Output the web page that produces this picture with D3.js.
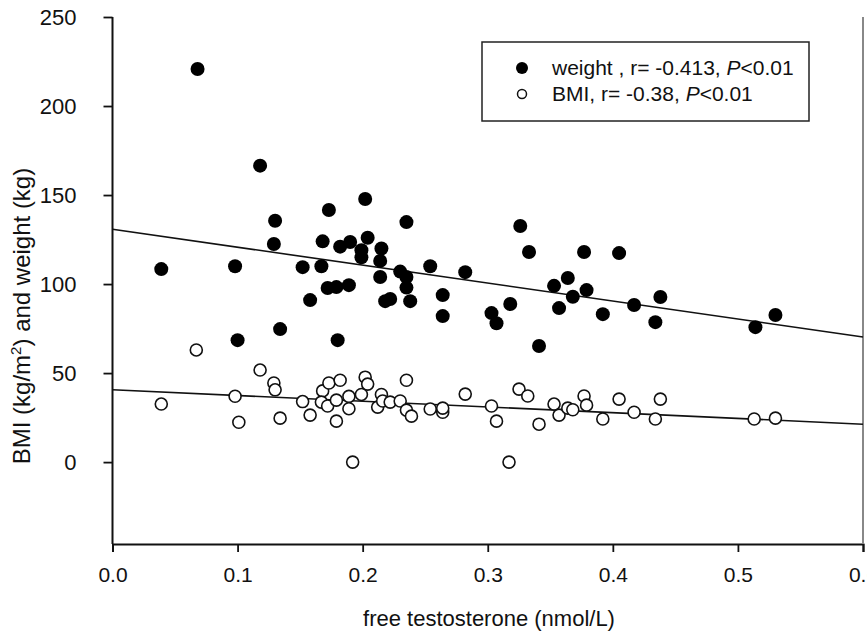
<!DOCTYPE html>
<html>
<head>
<meta charset="utf-8">
<script src="https://cdn.jsdelivr.net/npm/d3@7"></script>
<style>
  body { margin: 0; background: #fff; }
  text { font-family: "Liberation Sans", Arial, sans-serif; fill: #111; }
</style>
</head>
<body>
<svg id="chart" width="867" height="633"></svg>
<script>
// free testosterone (nmol/L) vs weight (kg)
const weightPts = [
  [0.039,108.4],[0.068,220.8],[0.098,110],[0.1,68.5],[0.118,166.5],[0.13,135.6],[0.129,122.5],
  [0.134,74.7],[0.152,109.5],[0.158,91],[0.167,110],[0.168,124],[0.173,141.6],[0.172,97.8],
  [0.179,98.3],[0.18,68.5],[0.182,121],[0.19,123.6],[0.189,99.4],[0.202,147.8],[0.204,126],
  [0.199,119],[0.199,115],[0.215,120],[0.214,113],[0.214,104],[0.218,90.4],[0.222,91.6],
  [0.23,107],[0.235,134.8],[0.235,104],[0.235,98],[0.238,90.4],[0.254,110],[0.264,93.8],
  [0.264,82],[0.282,106.7],[0.303,83.7],[0.307,78],[0.318,88.8],[0.326,132.6],[0.333,118],
  [0.341,65.2],[0.353,99],[0.357,86.5],[0.364,103.4],[0.368,92.9],[0.377,118],[0.379,96.6],
  [0.392,83.1],[0.405,117.4],[0.417,88.2],[0.434,78.6],[0.438,92.7],[0.514,75.8],[0.53,82.6]
];
// free testosterone vs BMI (kg/m2)
const bmiPts = [
  [0.039,32.6],[0.067,63],[0.098,37],[0.101,22.4],[0.118,51.7],[0.129,44.4],[0.13,40.6],
  [0.134,24.7],[0.152,34],[0.158,26.4],[0.168,40],[0.173,44.4],[0.182,46],[0.167,33.7],
  [0.172,31.5],[0.179,34.8],[0.179,23],[0.189,36.9],[0.189,30],[0.192,0],[0.199,38],
  [0.202,47.7],[0.204,43.8],[0.212,30.9],[0.215,38],[0.216,34.3],[0.222,33.7],[0.23,34.3],
  [0.235,46],[0.235,29.2],[0.239,25.8],[0.254,29.8],[0.264,28],[0.264,30.3],[0.282,38.2],
  [0.303,31.5],[0.307,23],[0.317,0],[0.325,41],[0.332,37.1],[0.341,21.3],[0.353,32.6],
  [0.357,26.4],[0.364,30.3],[0.368,29.4],[0.377,37.1],[0.379,32],[0.392,24.2],[0.405,35.4],
  [0.417,28],[0.434,24.2],[0.438,35.4],[0.513,24.2],[0.53,24.7]
];
// regression lines, end points at x = 0 and x = 0.6
const weightFit = [[0, 130.8], [0.6, 70.3]];
const bmiFit = [[0, 40.6], [0.6, 21.3]];

const xTicks = [0, 0.1, 0.2, 0.3, 0.4, 0.5, 0.6];
const yTicks = [0, 50, 100, 150, 200, 250];
const legendLabels = ['weight , r= -0.413, ', 'BMI, r= -0.38, '];

const svg = d3.select('#chart');
const x = d3.scaleLinear().domain([0, 0.6]).range([112.5, 863]);
const y = d3.scaleLinear().domain([-46, 250]).range([544, 17]);

// axes
const xAxis = svg.append('g').attr('transform', `translate(0,${y(-46)})`)
  .call(d3.axisBottom(x).tickValues(xTicks).tickFormat(d3.format('.1f')).tickSize(8).tickPadding(15));
const yAxis = svg.append('g').attr('transform', `translate(${x(0)},0)`)
  .call(d3.axisLeft(y).tickValues(yTicks).tickSize(9).tickPadding(27));
[xAxis, yAxis].forEach(a => {
  a.select('.domain').attr('stroke', '#111').attr('stroke-width', 2);
  a.selectAll('.tick line').attr('stroke', '#111').attr('stroke-width', 1.8);
  a.selectAll('.tick text').attr('fill', '#111')
    .style('font-family', '"Liberation Sans", Arial, sans-serif');
});
xAxis.selectAll('.tick text').style('font-size', '21px');
yAxis.selectAll('.tick text').style('font-size', '22px');
yAxis.select('.domain').attr('d', `M0,${y(-46)}V${y(250)}`);

// right frame line
svg.append('line').attr('x1', x(0.6)).attr('x2', x(0.6)).attr('y1', y(250)).attr('y2', y(-46))
  .attr('stroke', '#888').attr('stroke-width', 2);

// fit lines
const line = d3.line().x(d => x(d[0])).y(d => y(d[1]));
[weightFit, bmiFit].forEach(f => {
  svg.append('path').datum(f).attr('d', line).attr('fill', 'none')
    .attr('stroke', '#111').attr('stroke-width', 1.6);
});

// points
svg.append('g').selectAll('circle').data(bmiPts).join('circle')
  .attr('cx', d => x(d[0])).attr('cy', d => y(d[1])).attr('r', 6)
  .attr('fill', '#fff').attr('stroke', '#111').attr('stroke-width', 1.6);
svg.append('g').selectAll('circle').data(weightPts).join('circle')
  .attr('cx', d => x(d[0])).attr('cy', d => y(d[1])).attr('r', 7)
  .attr('fill', '#000');

// legend
const lg = svg.append('g');
lg.append('rect').attr('x', 482).attr('y', 42).attr('width', 327).attr('height', 79)
  .attr('fill', '#fff').attr('stroke', '#222').attr('stroke-width', 1.5);
lg.append('circle').attr('cx', 522).attr('cy', 68).attr('r', 6).attr('fill', '#000');
lg.append('circle').attr('cx', 522).attr('cy', 94).attr('r', 4.5)
  .attr('fill', '#fff').attr('stroke', '#111').attr('stroke-width', 1.5);
legendLabels.forEach((t, i) => {
  const tx = lg.append('text').attr('x', 552).attr('y', 75 + i * 26).style('font-size', '21px');
  tx.append('tspan').text(t);
  tx.append('tspan').style('font-style', 'italic').text('P');
  tx.append('tspan').text('<0.01');
});

// axis titles
svg.append('text').attr('x', 489).attr('y', 626).attr('text-anchor', 'middle')
  .style('font-size', '22px').text('free testosterone (nmol/L)');
const yt = svg.append('text').attr('transform', 'translate(30,316) rotate(-90)')
  .attr('text-anchor', 'middle').style('font-size', '24px');
yt.append('tspan').text('BMI (kg/m');
yt.append('tspan').attr('dy', -9).style('font-size', '15px').text('2');
yt.append('tspan').attr('dy', 9).text(') and weight (kg)');
</script>
</body>
</html>
